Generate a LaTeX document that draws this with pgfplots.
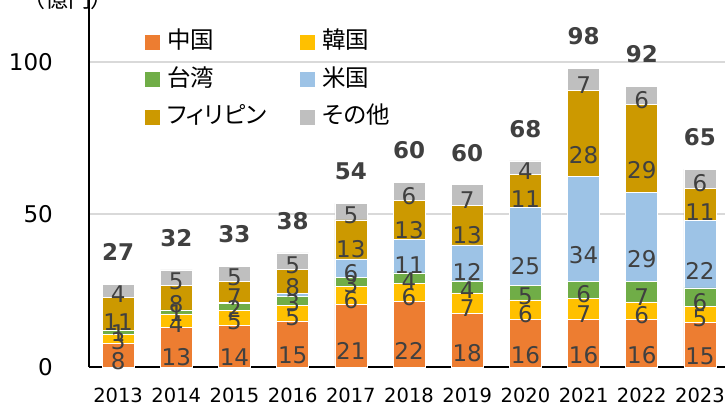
\documentclass[border=0pt]{standalone}
\usepackage{fontspec}
\setmainfont{DejaVu Sans}
\newfontfamily\jp[RawFeature=+palt]{Noto Sans CJK JP}
\usepackage{pgfplots}
\usepackage{pgfplotstable}
\pgfplotsset{compat=1.18}

\definecolor{cCN}{HTML}{ED7D31}
\definecolor{cKR}{HTML}{FFC000}
\definecolor{cTW}{HTML}{70AD47}
\definecolor{cUS}{HTML}{9DC3E6}
\definecolor{cPH}{HTML}{CC9900}
\definecolor{cOT}{HTML}{BFBFBF}
\definecolor{lbl}{HTML}{404040}
\definecolor{grd}{HTML}{D9D9D9}

% segment heights, labels as printed on the chart
\pgfplotstableread{
x  cn   kr  tw  us   ph   ot  cnl krl twl usl phl otl tot sum
0  7.6  3.1 1.3 0.0  10.8 4.3 8   3   1   {}  11  4   27  27.1
1  13.0 4.4 1.3 0.0  8.0  5.1 13  4   1   {}  8   5   32  31.8
2  13.6 5.0 2.2 0.3  7.0  4.8 14  5   2   {}  7   5   33  32.9
3  15.1 5.1 3.0 1.0  7.8  5.4 15  5   3   {}  8   5   38  37.4
4  20.6 5.7 3.0 6.1  12.8 5.4 21  6   3   6   13  5   54  53.6
5  21.6 5.7 3.5 10.9 12.9 5.8 22  6   4   11  13  6   60  60.4
6  17.6 6.7 3.9 11.8 12.9 6.8 18  7   4   12  13  7   60  59.7
7  15.6 6.4 4.8 25.4 11.0 4.3 16  6   5   25  11  4   68  67.5
8  15.6 6.8 5.6 34.4 28.1 7.4 16  7   6   34  28  7   98  97.9
9  15.6 5.7 6.8 29.2 28.8 5.8 16  6   7   29  29  6   92  91.9
10 14.7 5.2 6.0 22.1 10.6 6.2 15  5   6   22  11  6   65  64.8
}\data

\pgfplotsset{
  seg/.style={fill=#1, draw=white, line width=0.6pt,
    legend image code/.code={\fill[##1,draw=none] (0pt,-7.5pt) rectangle (15pt,7.5pt);}},
  % labels: half a segment stacked, label on its top = middle of the segment
  lab/.style={draw=none, fill=none, point meta=explicit symbolic, nodes near coords,
    every node near coord/.style={anchor=center, inner sep=0pt,
      text=lbl, font=\fontsize{23}{27}\selectfont}},
  gap/.style={draw=none, fill=none},
  frame/.style={scale only axis, width=636pt, height=367pt,
    xmin=-0.5, xmax=10.43, ymin=0, ymax=120.2, enlargelimits=false},
}

\begin{document}
\begin{tikzpicture}
\useasboundingbox (-89pt,-38pt) rectangle (636pt,367pt);
\begin{axis}[
  frame,
  ybar stacked, bar width=32pt,
  axis x line*=bottom, axis y line*=left,
  axis line style={black, line width=2.4pt, -},
  xtick={0,1,2,3,4,5,6,7,8,9,10},
  xticklabels={2013,2014,2015,2016,2017,2018,2019,2020,2021,2022,2023},
  ytick={0,50,100},
  major tick length=0pt,
  ymajorgrids, grid style={grd, line width=2pt},
  xticklabel style={font=\fontsize{19.5}{23}\selectfont, inner sep=0pt, yshift=-21pt},
  yticklabel style={font=\fontsize{23}{27}\selectfont, inner sep=0pt, xshift=-36pt},
  /pgf/number format/assume math mode=true,
  legend columns=2, legend cell align=left,
  legend style={at={(0.0881,0.9170)}, anchor=north west, draw=none, fill=none,
    inner sep=0pt, row sep=14.5pt,
    nodes={inner sep=0pt, text height=18pt, text depth=5pt,
      font=\jp\fontsize{23.5}{28}\selectfont},
    /tikz/every odd column/.append style={column sep=7pt}},
]
\addplot[seg=cCN] table[x=x, y=cn]{\data};
\addlegendentry{\makebox[133pt][l]{中国}}
\addplot[seg=cKR] table[x=x, y=kr]{\data};
\addlegendentry{韓国}
\addplot[seg=cTW] table[x=x, y=tw]{\data};
\addlegendentry{\makebox[133pt][l]{台湾}}
\addplot[seg=cUS] table[x=x, y=us]{\data};
\addlegendentry{米国}
\addplot[seg=cPH] table[x=x, y=ph]{\data};
\addlegendentry{\makebox[133pt][l]{フィリピン}}
\addplot[seg=cOT] table[x=x, y=ot]{\data};
\addlegendentry{その他}
\end{axis}
% segment labels
\begin{axis}[frame, hide axis, ybar stacked, bar width=32pt]
\addplot[lab] table[x=x, y expr=\thisrow{cn}/2, meta=cnl]{\data};
\addplot[gap] table[x=x, y expr=\thisrow{cn}/2]{\data};
\addplot[lab] table[x=x, y expr=\thisrow{kr}/2, meta=krl]{\data};
\addplot[gap] table[x=x, y expr=\thisrow{kr}/2]{\data};
\addplot[lab] table[x=x, y expr=\thisrow{tw}/2, meta=twl]{\data};
\addplot[gap] table[x=x, y expr=\thisrow{tw}/2]{\data};
\addplot[lab] table[x=x, y expr=\thisrow{us}/2, meta=usl]{\data};
\addplot[gap] table[x=x, y expr=\thisrow{us}/2]{\data};
\addplot[lab] table[x=x, y expr=\thisrow{ph}/2, meta=phl]{\data};
\addplot[gap] table[x=x, y expr=\thisrow{ph}/2]{\data};
\addplot[lab] table[x=x, y expr=\thisrow{ot}/2, meta=otl]{\data};
\end{axis}
% totals above the bars
\begin{axis}[frame, hide axis]
\addplot[draw=none, mark=none, point meta=explicit symbolic, nodes near coords,
  every node near coord/.style={anchor=center, inner sep=0pt, yshift=32pt,
    text=lbl, font=\bfseries\fontsize{23}{27}\selectfont}]
  table[x=x, y=sum, meta=tot]{\data};
\end{axis}
\node[anchor=base, inner sep=0pt, font=\jp\fontsize{23}{28}\selectfont] at (-21pt,359pt) {（億円）};
\end{tikzpicture}
\end{document}
